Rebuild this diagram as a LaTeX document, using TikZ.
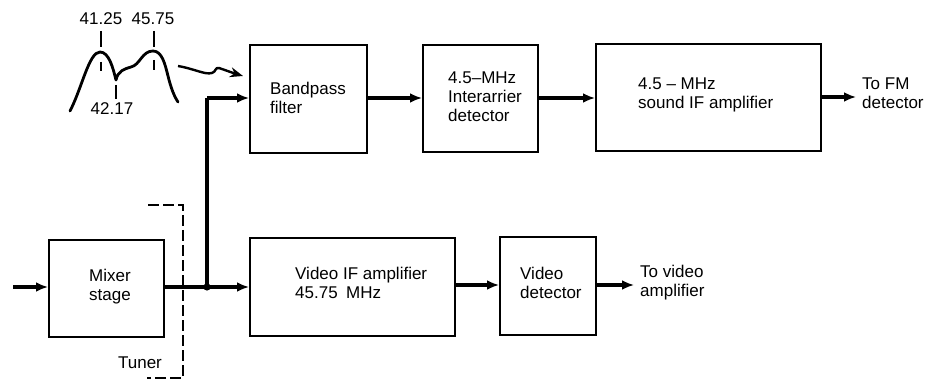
\documentclass[tikz,border=0pt]{standalone}
\usepackage{fontspec}
\setmainfont{Liberation Sans}
\usetikzlibrary{arrows.meta}
\begin{document}
\begin{tikzpicture}[x=1pt,y=-1pt,
  blk/.style={draw,line width=2pt,inner sep=0pt},
  txt/.style={font=\fontsize{17}{19}\selectfont,align=left,inner sep=0pt},
  conn/.style={line width=3.4pt,-{Latex[length=12pt,width=10pt]}},
  wire/.style={line width=3.4pt},
  tick/.style={line width=1.8pt},
  tuner/.style={line width=1.8pt,dash pattern=on 11pt off 4pt}]
\useasboundingbox (0,0) rectangle (928,379);
% boxes
\node[blk,minimum width=117pt,minimum height=108pt] (bp) at (308.5,99) {};
\node[blk,minimum width=115pt,minimum height=107pt] (ia) at (480.5,98.5) {};
\node[blk,minimum width=225pt,minimum height=107pt] (sif) at (708.5,97.5) {};
\node[blk,minimum width=115pt,minimum height=97pt] (mix) at (106.5,288.5) {};
\node[blk,minimum width=205pt,minimum height=98pt] (vif) at (352.5,287) {};
\node[blk,minimum width=96pt,minimum height=98pt] (vdet) at (548,286) {};
% texts
\node[txt,anchor=west] (tbp) at (270,97.5) {Bandpass\\filter};
\node[txt,anchor=west] (tia) at (448,97) {4.5--MHz\\Interarrier\\detector};
\node[txt,anchor=west] (tsif) at (638,95) {4.5 -- MHz\\sound IF amplifier};
\node[txt,anchor=west] (tfm) at (862,93) {To FM\\detector};
\node[txt,align=center] (tmix) at (110,286.5) {Mixer\\stage};
\node[txt,anchor=west] (tvif) at (295,283) {Video IF amplifier\\45.75\enspace MHz};
\node[txt,anchor=west] (tvdet) at (520,283) {Video\\detector};
\node[txt,anchor=west] (tva) at (640,283) {To video\\amplifier};
\node[txt] (ttun) at (140,363) {Tuner};
% spectrum labels
\node[txt] (l1) at (101,19) {41.25};
\node[txt] (l2) at (153,19) {45.75};
\node[txt] (l3) at (112,109) {42.17};
% coordinates
\coordinate (in) at (13,287);
\coordinate (jn) at (207,287);
\coordinate (up) at (207,98);
\coordinate (fmo) at (856,97);
\coordinate (vao) at (634,285);
% connectors
\draw[conn] (in) -- (mix.west |- in);
\draw[wire] (mix.east |- jn) -- (jn);
\draw[conn] (jn) -- (vif.west |- jn);
\draw[wire] (jn) -- (up);
\draw[conn] (up) -- (bp.west |- up);
\draw[conn] (bp.east |- up) -- (ia.west |- up);
\draw[conn] (ia.east |- up) -- (sif.west |- up);
\draw[conn] (sif.east |- fmo) -- (fmo);
\draw[conn] (vif.east |- vao) -- (vdet.west |- vao);
\draw[conn] (vdet.east |- vao) -- (vao);
\fill (jn) circle (3.6pt);
% tuner boundary
\coordinate (tu1) at (148,205);
\coordinate (tu2) at (183,205);
\coordinate (tu3) at (183,378);
\coordinate (tu4) at (147,378);
\draw[tuner] (tu1) -- (tu2) -- (tu3) -- (tu4);
% spectrum curve
\coordinate (c0) at (70,111);
\coordinate (cp1) at (100,52);
\coordinate (cv) at (116,80);
\coordinate (cb) at (131,67);
\coordinate (cp2) at (153,51);
\coordinate (cd) at (168,76);
\coordinate (ce) at (178,102);
\draw[line width=2.8pt,line cap=round,line join=round]
  (c0) .. controls (82,88) and (89,52) .. (cp1)
  .. controls (109,52) and (113,68) .. (cv)
  .. controls (118,71) and (124,69) .. (cb)
  .. controls (140,65) and (142,51) .. (cp2)
  .. controls (162,51) and (165,64) .. (cd)
  .. controls (171,88) and (174,96) .. (ce);
% ticks
\draw[tick] (101,31) -- (101,47);
\draw[tick] (101,62) -- (101,71);
\draw[tick] (154,31) -- (154,47);
\draw[tick] (154,60) -- (154,70);
\draw[tick] (116,85) -- (116,99);
% wavy arrow
\coordinate (w0) at (178,66);
\coordinate (w1) at (212,73);
\coordinate (w2) at (219,68);
\coordinate (w3) at (243,76);
\draw[line width=2.4pt,-{Stealth[length=13pt,width=10pt]}]
  (w0) .. controls (195,69) and (205,75) .. (w1)
  .. controls (216,72) and (215,67) .. (w2)
  .. controls (225,70) and (233,73) .. (w3);
\end{tikzpicture}
\end{document}
